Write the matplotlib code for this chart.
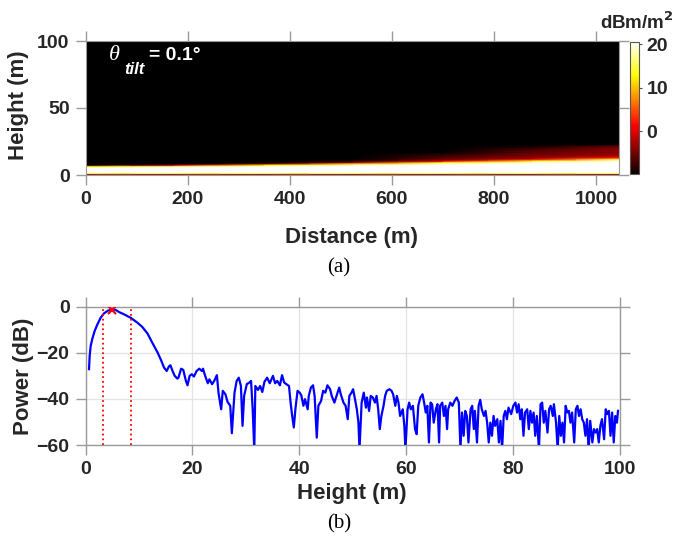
import numpy as np
import matplotlib
matplotlib.use("Agg")
import matplotlib.pyplot as plt

plt.rcParams['font.family'] = ['Liberation Sans', 'DejaVu Sans']
plt.rcParams['font.weight'] = 'bold'

# ---------------- data: panel (a) field map (dBm/m^2) ----------------
map_dist = [0, 175, 350, 525, 700, 875, 1046]
map_height = [0, 0.7, 1.4, 2.2, 4, 5.5, 6.5, 7.5, 8.5, 9.5, 10.5, 11.5, 12.5,
              13.5, 15, 17, 19, 21, 23, 100]
map_power = [
    [12, 12, 12, 12, 12, 12, 12],
    [-4, -4, -4, -4, -4, -4, -4],
    [16, 16, 16, 16, 16, 16, 16],
    [21, 21, 21, 21, 21, 21, 21],
    [21, 21, 21, 21, 21, 21, 21],
    [21, 21, 21, 21, 21, 21, 21],
    [12, 17, 20, 21, 21, 21, 21],
    [-15, -2, 12, 19, 21, 21, 21],
    [-15, -15, -6, 10, 19, 21, 21],
    [-15, -15, -14, -4, 12, 19, 21],
    [-15, -15, -15, -8, 0, 14, 20],
    [-15, -15, -15, -10, -5, 3, 17],
    [-15, -15, -15, -12, -6, -3, 8],
    [-15, -15, -15, -13, -7, -4, 0],
    [-15, -15, -15, -15, -8, -5, -3],
    [-15, -15, -15, -15, -10, -6, -4],
    [-15, -15, -15, -15, -12, -7, -4],
    [-15, -15, -15, -15, -14, -9, -5],
    [-15, -15, -15, -15, -15, -15, -15],
    [-15, -15, -15, -15, -15, -15, -15],
]
cbar_ticks = [0, 10, 20]
dist_ticks = [0, 200, 400, 600, 800, 1000]
height_ticks = [0, 50, 100]

# ---------------- data: panel (b) power profile (dB) ----------------
prof_height = [
    0.66, 0.78, 0.97, 1.28, 1.72, 2.22, 2.84, 3.46, 4.21, 5.0, 5.65, 6.27, 7.2, 8.46,
    9.7, 10.6, 11.6, 12.5, 13.5, 14.2, 14.7, 15.2, 15.6, 15.9, 16.3, 16.7, 17.2,
    17.4, 17.9, 18.3, 18.8, 19.1, 19.5, 19.9, 20.3, 20.8, 21.3, 21.8, 22.0, 22.4,
    22.9, 23.2, 23.7, 24.1, 24.6, 24.9, 25.4, 25.7, 26.2, 26.6, 27.1, 27.4, 27.9,
    28.3, 28.7, 29.1, 29.4, 29.7, 30.2, 30.7, 31.0, 31.3, 31.6, 31.8, 32.3, 32.7,
    33.1, 33.5, 34.0, 34.5,
    35.1, 35.5, 35.9, 36.4, 36.8, 37.2, 37.6, 38.1, 38.4, 38.7, 39.0, 39.3, 39.7,
    40.1, 40.4, 40.8, 41.1, 41.6, 41.8, 42.2, 42.6, 42.9, 43.3, 43.6, 44.1, 44.5,
    44.9, 45.3, 45.8, 46.1, 46.6, 47.0, 47.5, 47.8, 48.3, 48.7, 49.1, 49.4, 49.8,
    50.1, 50.4, 50.8, 51.1, 51.3,
    51.7, 52.1, 52.5, 52.7, 53.1, 53.4, 53.8, 54.2, 54.5, 54.8, 55.1, 55.4, 55.8,
    56.1, 56.4, 56.9, 57.3, 57.6, 58.0, 58.3, 58.6, 58.9, 59.4, 59.7, 59.9, 60.3,
    60.6, 60.9, 61.3, 61.7, 62.0, 62.3, 62.7, 63.1, 63.4, 63.7, 64.0, 64.3, 64.6,
    64.9, 65.2, 65.6, 65.9, 66.2, 66.4, 66.8, 67.1, 67.4, 67.7, 67.9, 68.3, 68.7,
    69.1,
    69.5, 69.9, 70.2, 70.5, 70.8, 71.1, 71.4, 71.7, 72.1, 72.4, 72.7, 72.9, 73.3,
    73.6, 73.9, 74.2, 74.6, 74.9, 75.2, 75.5, 75.8, 76.1, 76.4, 76.7, 77.1, 77.4,
    77.7, 78.0, 78.3, 78.6, 78.9, 79.2, 79.7, 80.1, 80.5, 80.8, 81.1, 81.4, 81.7,
    82.0, 82.3, 82.7, 83.0, 83.3, 83.6, 83.9, 84.2, 84.5, 84.9, 85.2, 85.5,
    85.8, 86.1, 86.5, 86.8, 87.1, 87.5, 87.7, 88.1, 88.4, 88.7, 89.0, 89.3, 89.6,
    89.9, 90.2, 90.5, 90.8, 91.1, 91.5, 91.8, 92.1, 92.4, 92.7, 93.0, 93.3, 93.6,
    93.9, 94.2, 94.5, 94.9, 95.2, 95.5, 95.8, 96.1, 96.4, 96.7, 97.1, 97.4, 97.7,
    98.0, 98.3, 98.6, 98.9, 99.2, 99.5, 99.7,
]
prof_power = [
    -27.1, -21.4, -17.0, -13.9, -10.5, -7.7, -4.8, -2.9, -1.7, -1.2, -1.4, -2.3, -3.3, -4.8,
    -6.9, -8.7, -11.6, -15.6, -19.9, -23.5, -26.4, -27.9, -26.0, -25.4, -27.9, -30.0, -31.2,
    -30.8, -26.9, -27.4, -32.2, -34.1, -30.0, -29.3, -30.3, -27.9, -26.9, -27.9, -26.9, -30.0,
    -33.2, -31.5, -33.6, -32.2, -29.7, -37.3, -44.5, -36.5, -38.0, -41.3, -43.0, -54.9, -37.3,
    -32.2, -30.8, -34.4, -51.7, -38.7, -33.6, -32.9, -32.2, -44.5, -62.0, -34.4, -36.1, -34.4,
    -37.0, -32.6, -30.8, -33.2,
    -30.0, -33.2, -32.2, -34.1, -29.7, -32.9, -33.6, -34.4, -41.6, -47.4, -52.4, -44.5, -36.5,
    -37.3, -38.4, -43.0, -40.1, -44.5, -38.7, -35.1, -34.1, -38.7, -56.8, -43.0, -40.9, -36.5,
    -37.3, -34.1, -35.8, -38.7, -41.6, -38.7, -35.1, -38.0, -41.6, -43.0, -48.8, -38.7, -37.3,
    -35.8, -39.4, -44.5, -50.3, -62.0,
    -41.6, -37.3, -43.8, -39.4, -45.2, -38.7, -39.4, -41.6, -38.7, -44.5, -53.1, -47.4, -43.0,
    -38.7, -36.5, -35.8, -36.5, -38.0, -43.0, -38.7, -41.6, -47.4, -44.5, -51.7, -62.0, -44.5,
    -41.6, -44.5, -43.0, -53.1, -55.3, -43.0, -39.4, -38.0, -41.6, -45.9, -43.0, -58.9, -41.6,
    -42.3, -50.3, -44.5, -42.3, -58.9, -43.0, -41.6, -47.4, -43.0, -53.1, -44.5, -41.6, -43.0,
    -40.9,
    -39.4, -41.6, -62.0, -45.9, -56.0, -45.2, -47.4, -58.9, -44.5, -43.0, -53.1, -45.2, -58.9,
    -43.0, -40.4, -44.5, -47.4, -45.2, -50.3, -58.9, -50.3, -56.0, -47.4, -51.7, -48.8, -58.9,
    -49.5, -62.0, -47.4, -45.2, -48.8, -43.8, -46.6, -43.0, -41.6, -45.9, -42.3, -48.8, -44.5,
    -56.0, -45.9, -44.5, -53.1, -45.2, -50.3, -45.9, -56.0, -47.4, -62.0, -42.3, -41.6,
    -50.3, -45.2, -54.6, -44.5, -43.0, -47.4, -42.3, -50.3, -62.0, -47.4, -56.0, -50.3, -58.9,
    -43.0, -45.9, -45.2, -50.3, -45.9, -58.9, -44.5, -43.0, -47.4, -44.5, -48.8, -50.3, -56.0,
    -48.8, -62.0, -49.5, -58.9, -53.1, -54.6, -53.1, -58.9, -51.7, -48.8, -57.5, -44.5, -46.6,
    -45.2, -56.0, -45.9, -58.9, -47.4, -50.3, -45.2,
]
peak_height = 5.0
peak_power = -1.3
bound_heights = [3.2, 8.45]
prof_xticks = [0, 20, 40, 60, 80, 100]
prof_yticks = [-60, -40, -20, 0]

# ---------------- figure ----------------
W, H = 677, 548
fig = plt.figure(figsize=(W / 100, H / 100), dpi=100)

def fx(px):
    return px / W

def fy(py):
    return 1 - py / H

tick_col = '#9a9a9a'
lab_col = '#262626'

cmap = plt.get_cmap('hot').copy()
cmap.set_under('black')

# panel (a)
ax1 = fig.add_axes([fx(85.5), fy(175), fx(619.3) - fx(85.5), fy(41) - fy(175)])
ax1.set_facecolor('black')
mesh = ax1.pcolormesh(np.array(map_dist), np.array(map_height), np.array(map_power),
                      cmap=cmap, vmin=-9.8, vmax=20.6, shading='gouraud')
ax1.set_xlim(0, 1046)
ax1.set_ylim(0, 100)
ax1.set_xticks(dist_ticks)
ax1.set_yticks(height_ticks)
for sp in ax1.spines.values():
    sp.set_color(tick_col)
    sp.set_linewidth(0.8)
ax1.tick_params(direction='out', top=True, right=True, length=7.5, width=1,
                color=tick_col, labelsize=14, labelcolor=lab_col, pad=4)
for lb in ax1.get_xticklabels() + ax1.get_yticklabels():
    lb.set_fontweight('bold')

fig.text(fx(109), fy(56), 'θ', color='white', fontsize=16,
         family='Liberation Serif', style='italic', fontweight='normal',
         ha='left', va='center')
fig.text(fx(124), fy(69), 'tilt', color='white', fontsize=12, fontweight='bold',
         style='italic', ha='left', va='center')
fig.text(fx(149), fy(56), '= 0.1°', color='white', fontsize=14, fontweight='bold',
         ha='left', va='center')

# colorbar
cax = fig.add_axes([fx(630), fy(174), fx(639) - fx(630), fy(41.7) - fy(174)])
cb = fig.colorbar(mesh, cax=cax, ticks=cbar_ticks)
cb.outline.set_edgecolor('#555555')
cb.outline.set_linewidth(0.8)
cax.tick_params(direction='out', length=2.5, width=0.8, color='#555555',
                labelsize=14, labelcolor=lab_col, pad=3)
for lb in cax.get_yticklabels():
    lb.set_fontweight('bold')
fig.text(fx(637), fy(22), r'dBm/m$^{\mathbf{2}}$', fontsize=13.5, fontweight='bold',
         color=lab_col, ha='center', va='center')

fig.text(fx(352), fy(237), 'Distance (m)', fontsize=16, fontweight='bold',
         color=lab_col, ha='center', va='center')
fig.text(fx(19), fy(105), 'Height (m)', fontsize=16, fontweight='bold',
         color=lab_col, ha='center', va='center', rotation=90)
fig.text(fx(339), fy(268), '(a)', fontsize=15, family='Liberation Serif',
         fontweight='normal', color='black', ha='center', va='center')

# panel (b)
ax2 = fig.add_axes([fx(85.5), fy(445), fx(619.6) - fx(85.5), fy(306.7) - fy(445)])
ax2.set_axisbelow(True)
ax2.grid(True, color='#e4e4e4', linewidth=0.9)
ax2.plot(prof_height, prof_power, color='blue', linewidth=1.6, zorder=3)
for bh in bound_heights:
    ax2.plot([bh, bh], [prof_yticks[0], prof_yticks[-1]], color='red', linestyle=':',
             linewidth=1.3, zorder=4)
ax2.plot([peak_height], [peak_power], marker='x', color='red', markersize=6,
         markeredgewidth=1.6, zorder=5)
ax2.set_xlim(0, 100)
ax2.set_ylim(-60, 0)
ax2.set_xticks(prof_xticks)
ax2.set_yticks(prof_yticks)
for sp in ax2.spines.values():
    sp.set_color(tick_col)
    sp.set_linewidth(1.0)
ax2.tick_params(direction='out', top=True, right=True, length=7.5, width=1,
                color=tick_col, labelsize=14, labelcolor=lab_col, pad=4)
for lb in ax2.get_xticklabels() + ax2.get_yticklabels():
    lb.set_fontweight('bold')

fig.text(fx(352), fy(494), 'Height (m)', fontsize=16, fontweight='bold',
         color=lab_col, ha='center', va='center')
fig.text(fx(24), fy(376), 'Power (dB)', fontsize=16, fontweight='bold',
         color=lab_col, ha='center', va='center', rotation=90)
fig.text(fx(339), fy(524), '(b)', fontsize=15, family='Liberation Serif',
         fontweight='normal', color='black', ha='center', va='center')

fig.savefig('out.png', dpi=100, facecolor='white')
